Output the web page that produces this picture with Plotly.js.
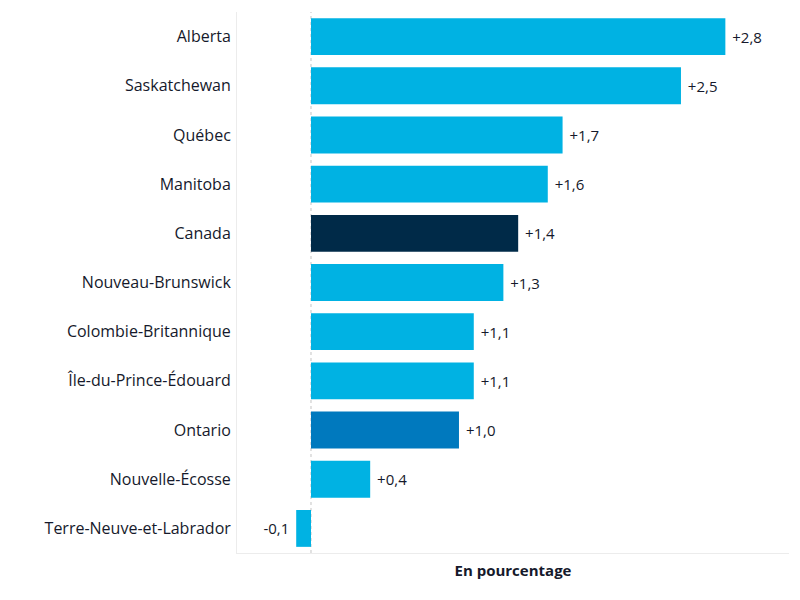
<!DOCTYPE html>
<html>
<head>
<meta charset="utf-8">
<script src="https://cdn.plot.ly/plotly-3.0.1.min.js"></script>
<style>
  html, body { margin: 0; padding: 0; background: #fff; }
  #chart { width: 800px; height: 600px; }
</style>
</head>
<body>
<div id="chart"></div>
<script>
// provinces, top to bottom as in the chart
var provinces = ['Alberta', 'Saskatchewan', 'Québec', 'Manitoba', 'Canada',
  'Nouveau-Brunswick', 'Colombie-Britannique', 'Île-du-Prince-Édouard',
  'Ontario', 'Nouvelle-Écosse', 'Terre-Neuve-et-Labrador'];
var changes = [2.8, 2.5, 1.7, 1.6, 1.4, 1.3, 1.1, 1.1, 1.0, 0.4, -0.1];

var lightBlue = '#00b2e3', navy = '#002a48', midBlue = '#0079be';

// label with sign and french decimal comma, padded away from the bar end
function fmt(v) {
  var s = Math.abs(v).toFixed(1).replace('.', ',');
  return v < 0 ? '-' + s + ' ' : ' +' + s;
}

var colors = provinces.map(function (p) {
  if (p === 'Canada') return navy;
  if (p === 'Ontario') return midBlue;
  return lightBlue;
});

var trace = {
  type: 'bar',
  orientation: 'h',
  y: provinces,
  x: changes,
  text: changes.map(fmt),
  textposition: 'outside',
  cliponaxis: false,
  textfont: { family: '"Open Sans", sans-serif', size: 15, color: '#15192b' },
  marker: { color: colors },
  width: 0.75,
  hoverinfo: 'none'
};

var layout = {
  width: 800, height: 600,
  margin: { l: 237, r: 11, t: 12, b: 47 },
  paper_bgcolor: '#fff', plot_bgcolor: '#fff',
  showlegend: false,
  font: { family: '"Open Sans", sans-serif', color: '#15192b' },
  xaxis: {
    range: [-0.5, 3.23],
    showticklabels: false, showgrid: false, zeroline: false,
    showline: true, linecolor: '#ececec', linewidth: 1,
    title: { text: '<b>En pourcentage</b>', font: { size: 15, color: '#15192b' }, standoff: 12 }
  },
  yaxis: {
    autorange: 'reversed',
    showgrid: false, zeroline: false,
    showline: true, linecolor: '#ececec', linewidth: 1,
    ticks: 'outside', ticklen: 2, tickcolor: 'rgba(0,0,0,0)',
    tickfont: { size: 16, color: '#15192b' }
  },
  shapes: [{
    type: 'line', xref: 'x', yref: 'paper', x0: 0, x1: 0, y0: 0, y1: 1,
    line: { color: '#c4c4c4', width: 1, dash: 'dot' },
    layer: 'below'
  }]
};

Plotly.newPlot('chart', [trace], layout, { displayModeBar: false, staticPlot: true });
</script>
</body>
</html>
